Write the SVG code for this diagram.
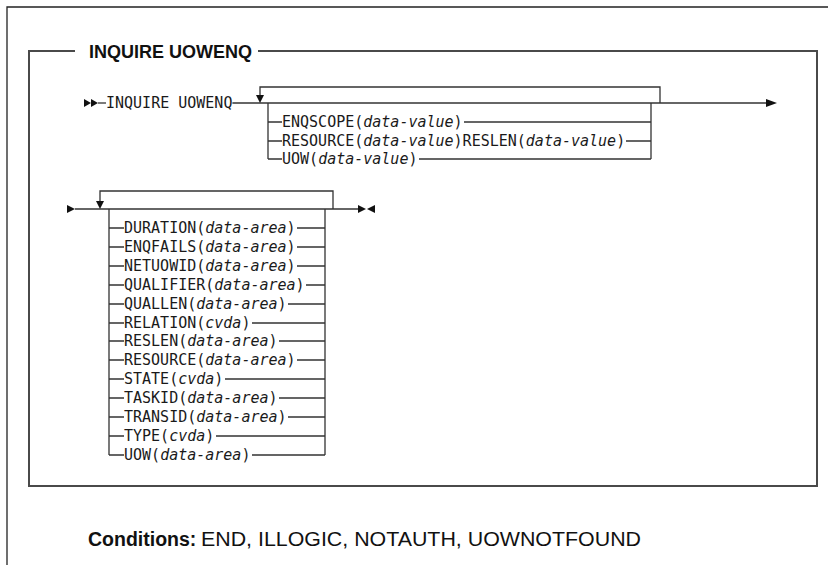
<svg xmlns="http://www.w3.org/2000/svg" width="828" height="565" viewBox="0 0 828 565">
<style>
.frame{fill:none;stroke:#222;stroke-width:1.3}
.box{fill:none;stroke:#4a4a4a;stroke-width:2}
.ln{fill:none;stroke:#333;stroke-width:1.3}
.ah{fill:#111}
.kw{font-family:"DejaVu Sans Mono","Liberation Mono",monospace;font-size:15px;fill:#1a1a1a}
.it{font-style:italic}
.title{font-family:"Liberation Sans",Arial,sans-serif;font-weight:bold;font-size:18px;fill:#111}
.cond{font-family:"Liberation Sans",Arial,sans-serif;font-size:20px;fill:#111}
</style>
<rect width="828" height="565" fill="#fff"/>
<g id="frame">
<path class="frame" d="M7 565 V7 H828"/>
<path class="box" d="M75 51 H29 V486 H817 V51 H258"/>
<text class="title" x="89" y="58">INQUIRE UOWENQ</text>
</g>
<g id="connectors">
<polygon class="ah" points="84,99 91,103 84,107"/>
<polygon class="ah" points="91,99 98,103 91,107"/>
<path class="ln" d="M98 103 H106"/>
<path class="ln" d="M232.4 103 H767"/>
<path class="ln" d="M260 96 V87 H660 V103"/>
<polygon class="ah" points="256,95 264,95 260,103"/>
<polygon class="ah" points="766,99 777,103 766,107"/>
<path class="ln" d="M268 103 V159 M651 103 V159"/>
<path class="ln" d="M268 122 H282 M464 122 H651"/>
<path class="ln" d="M268 141 H282 M626 141 H651"/>
<path class="ln" d="M268 159 H282 M419 159 H651"/>
<polygon class="ah" points="67,205 75,209 67,213"/>
<path class="ln" d="M75 209 H358"/>
<path class="ln" d="M100 201 V191 H333 V209"/>
<polygon class="ah" points="96,201 104,201 100,209"/>
<polygon class="ah" points="358,205 366,209 358,213"/>
<polygon class="ah" points="375,205 367,209 375,213"/>
<path class="ln" d="M109 209 V455 M325 209 V455"/>
<path class="ln" d="M109 228 H124 M297 228 H325"/>
<path class="ln" d="M109 247 H124 M297 247 H325"/>
<path class="ln" d="M109 266 H124 M297 266 H325"/>
<path class="ln" d="M109 285 H124 M306 285 H325"/>
<path class="ln" d="M109 304 H124 M288 304 H325"/>
<path class="ln" d="M109 323 H124 M252 323 H325"/>
<path class="ln" d="M109 341 H124 M279 341 H325"/>
<path class="ln" d="M109 360 H124 M297 360 H325"/>
<path class="ln" d="M109 379 H124 M225 379 H325"/>
<path class="ln" d="M109 398 H124 M279 398 H325"/>
<path class="ln" d="M109 417 H124 M288 417 H325"/>
<path class="ln" d="M109 436 H124 M216 436 H325"/>
<path class="ln" d="M109 455 H124 M252 455 H325"/>
</g>
<g id="cmd"><text class="kw" x="106" y="108">INQUIRE UOWENQ</text></g>
<g id="enqscope"><text class="kw" x="282" y="127">ENQSCOPE(<tspan class="it">data-value</tspan>)</text></g>
<g id="resource-in"><text class="kw" x="282" y="146">RESOURCE(<tspan class="it">data-value</tspan>)RESLEN(<tspan class="it">data-value</tspan>)</text></g>
<g id="uow-in"><text class="kw" x="282" y="164">UOW(<tspan class="it">data-value</tspan>)</text></g>
<g id="duration"><text class="kw" x="124" y="233">DURATION(<tspan class="it">data-area</tspan>)</text></g>
<g id="enqfails"><text class="kw" x="124" y="252">ENQFAILS(<tspan class="it">data-area</tspan>)</text></g>
<g id="netuowid"><text class="kw" x="124" y="271">NETUOWID(<tspan class="it">data-area</tspan>)</text></g>
<g id="qualifier"><text class="kw" x="124" y="290">QUALIFIER(<tspan class="it">data-area</tspan>)</text></g>
<g id="quallen"><text class="kw" x="124" y="309">QUALLEN(<tspan class="it">data-area</tspan>)</text></g>
<g id="relation"><text class="kw" x="124" y="328">RELATION(<tspan class="it">cvda</tspan>)</text></g>
<g id="reslen"><text class="kw" x="124" y="346">RESLEN(<tspan class="it">data-area</tspan>)</text></g>
<g id="resource"><text class="kw" x="124" y="365">RESOURCE(<tspan class="it">data-area</tspan>)</text></g>
<g id="state"><text class="kw" x="124" y="384">STATE(<tspan class="it">cvda</tspan>)</text></g>
<g id="taskid"><text class="kw" x="124" y="403">TASKID(<tspan class="it">data-area</tspan>)</text></g>
<g id="transid"><text class="kw" x="124" y="422">TRANSID(<tspan class="it">data-area</tspan>)</text></g>
<g id="type"><text class="kw" x="124" y="441">TYPE(<tspan class="it">cvda</tspan>)</text></g>
<g id="uow"><text class="kw" x="124" y="460">UOW(<tspan class="it">data-area</tspan>)</text></g>
<g id="conditions"><text class="cond" x="88" y="546"><tspan font-weight="bold" font-size="19.5">Conditions:</tspan><tspan x="201" textLength="440" lengthAdjust="spacingAndGlyphs" font-size="21">END, ILLOGIC, NOTAUTH, UOWNOTFOUND</tspan></text></g>
</svg>
